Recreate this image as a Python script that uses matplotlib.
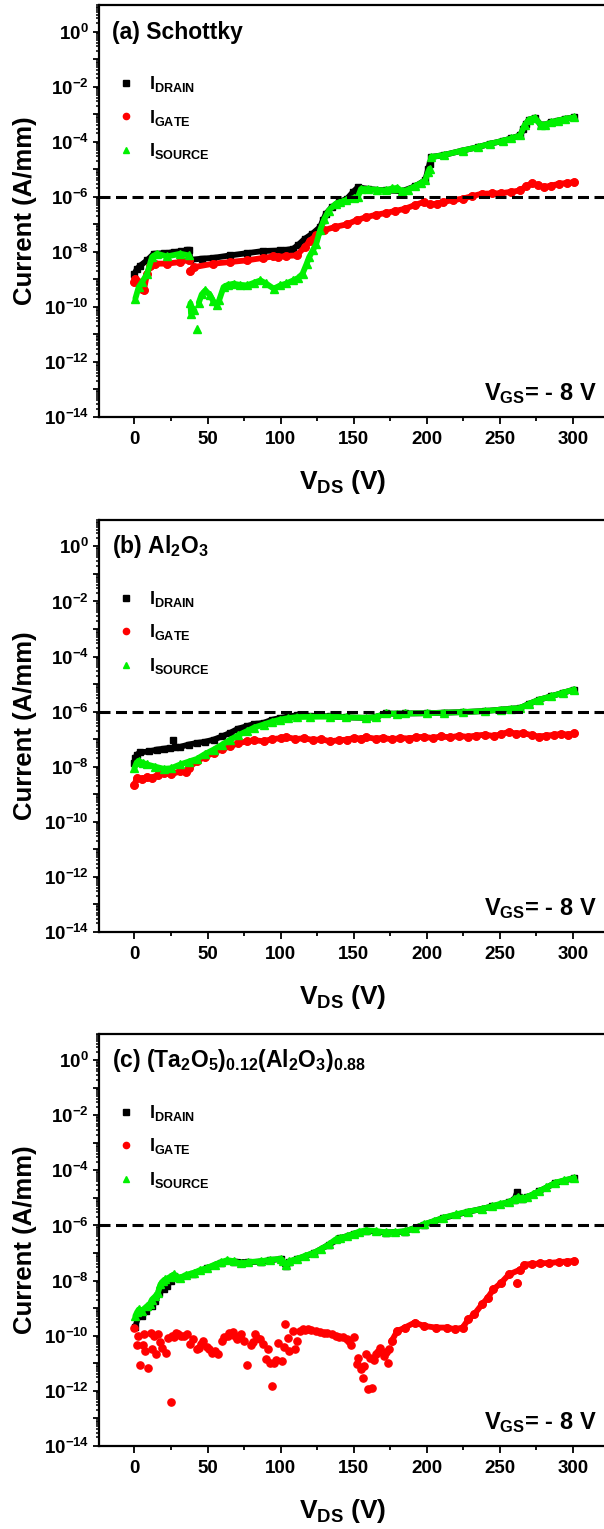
import matplotlib
matplotlib.use('Agg')
import matplotlib.pyplot as plt
import numpy as np
from matplotlib import rcParams
from matplotlib.lines import Line2D
from matplotlib.ticker import FixedLocator, LogLocator, FuncFormatter, NullFormatter

rcParams['font.family'] = 'Liberation Sans'
rcParams['font.weight'] = 'bold'
rcParams['mathtext.fontset'] = 'custom'
rcParams['mathtext.rm'] = 'Liberation Sans:bold'
rcParams['mathtext.it'] = 'Liberation Sans:bold'
rcParams['mathtext.bf'] = 'Liberation Sans:bold'
rcParams['mathtext.default'] = 'bf'

nan = np.nan

# ---- (a) Schottky : V_DS (V) and log10 of current (A/mm)
a_drain_v = [0, 1.7, 4, 8.6, 13.2, 20, 26.9, 32, 36, 37.5, 38.3, 46, 54, 65.5, 77,
             88.3, 99.8, 104, 108.6, 112, 116.5, 121.8, 127, 129, 131, 135, 140,
             145.5, 149.5, 153, 160, 172, 183, 192, 199, 201, 202, nan, 203, 212,
             224.6, 235, 243, 252, 258, 264, 266, 268, 270, 274, 278, 281, 285,
             290, 295, 301]
a_drain_log = [-8.80, -8.62, -8.50, -8.31, -8.07, -8.05, -8.01, -7.98, -7.95, -7.93,
               -8.29, -8.25, -8.22, -8.13, -8.05, -7.97, -7.95, -7.93, -7.89, -7.75,
               -7.53, -7.34, -7.10, -6.85, -6.62, -6.38, -6.19, -6.07, -5.83, -5.65,
               -5.72, -5.77, -5.80, -5.62, -5.40, -5.00, -4.80, nan, -4.56, -4.48,
               -4.32, -4.20, -4.08, -3.97, -3.88, -3.77, -3.55, -3.35, -3.20, -3.13,
               -3.38, -3.38, -3.30, -3.23, -3.17, -3.11]

a_gate_v = [0, 0.6, 2.5, 5.2, 6.4, 8.6, 10.9, 14.3, 22.3, 31.4, 37, nan, 38.3, 40.5,
            54, 65.5, 77, 88.3, 95, 98, 104, 111, 116.5, 120, 124.4, 129.6, 137,
            145.5, 152, 158.7, 165, 172, 178, 185, 192, 198, 202, 207, 211.4, 218,
            224.6, 231, 237.8, 245, 251, 258, 264, 268, 272, 276, 280, 285, 290.5,
            296, 301]
a_gate_log = [-9.10, -8.98, -9.10, -9.34, -9.40, -8.80, -8.50, -8.43, -8.43, -8.37,
              -8.29, nan, -8.68, -8.56, -8.43, -8.37, -8.31, -8.22, -8.17, -8.19,
              -8.15, -8.13, -7.83, -7.60, -7.40, -7.22, -7.10, -7.00, -6.85, -6.74,
              -6.66, -6.59, -6.52, -6.44, -6.30, -6.19, -6.28, -6.25, -6.19, -6.12,
              -6.07, -5.98, -5.89, -5.88, -5.87, -5.82, -5.77, -5.62, -5.51, -5.58,
              -5.65, -5.60, -5.53, -5.50, -5.47]

a_source_v = [0.6, 2.9, 5.2, 8.6, 12, 15.4, 22.3, 31.4, 37, nan, 38.3, 38.7, 41, nan,
              42.6, nan, 44, 46, 48.5, 51.8, 54, 56.5, 58, 61, 64, 67.9, 72, 77, 82,
              86.2, 90, 95.3, 99.8, 104, 108.6, 112, 115, 117.8, 119.5, 122, 124.4,
              127, 130, 133, 137.6, 141, 145, 150, 153, 155, 160, 166, 172, 176, 180,
              183, 187, 192, 196, 199, 201, 202, nan, 203, 212, 224.6, 235, 243, 252,
              258, 264, 267, 270, 274, 278, 281, 285, 290, 295, 301]
a_source_log = [-9.70, -9.28, -9.10, -8.80, -8.19, -8.07, -8.17, -8.07, -8.13, nan,
                -9.87, -10.25, -10.13, nan, -10.79, nan, -9.85, -9.55, -9.40, -9.58,
                -9.80, -9.95, -9.75, -9.28, -9.20, -9.16, -9.20, -9.22, -9.12, -9.04,
                -9.15, -9.34, -9.22, -9.15, -9.04, -8.95, -8.80, -8.44, -8.20, -7.95,
                -7.71, -7.22, -6.80, -6.50, -6.26, -6.18, -6.12, -6.05, -6.00, -5.72,
                -5.72, -5.75, -5.77, -5.70, -5.68, -5.80, -5.75, -5.62, -5.50, -5.40,
                -5.10, -4.98, nan, -4.56, -4.48, -4.32, -4.20, -4.08, -3.97, -3.88,
                -3.77, -3.40, -3.20, -3.13, -3.38, -3.38, -3.30, -3.23, -3.17, -3.11]

# ---- (b) Al2O3
b_drain_v = [0, 0.5, 1.7, 4, 10, 15.4, 20, 24, nan, 26.3, nan, 28, 31.4, 37, 42.8,
             48, 54.2, 60, 65.6, 71, 77, 82, 88.4, 94, 99.9, 105, 111, 120, 134,
             145, 158.7, 165, 172, 180, 185, 200, 212, 224.6, 240, 251, 258, 264,
             270, 277, 285, 293, 301]
b_drain_log = [-7.86, -7.70, -7.56, -7.48, -7.45, -7.38, -7.35, -7.32, nan, -7.02,
               nan, -7.30, -7.28, -7.20, -7.14, -7.10, -7.02, -6.90, -6.77, -6.62,
               -6.53, -6.45, -6.41, -6.30, -6.23, -6.18, -6.14, -6.16, -6.17, -6.21,
               -6.23, -6.20, -6.07, -6.08, -6.07, -6.06, -6.04, -6.02, -5.98, -5.93,
               -5.90, -5.87, -5.72, -5.57, -5.45, -5.32, -5.20]

b_gate_v = [0, 1.7, 5, 8.6, 12, 16, 20, 25, 31.4, 35, 37, 42.8, 48, 54.2, 60, 65.6,
            71, 77, 82, 88.4, 94, 100, 104, 110, 116, 122, 128, 134, 140, 145.5,
            150, 155, 158.7, 165, 170, 176, 182, 188, 193, 198, 204, 210, 216, 222,
            228, 234, 240, 246, 251, 256, 261, 266, 272, 277, 282, 287, 292, 297, 301]
b_gate_log = [-8.65, -8.41, -8.45, -8.38, -8.40, -8.30, -8.25, -8.28, -8.17, -8.20,
              -8.05, -7.80, -7.65, -7.50, -7.36, -7.26, -7.15, -7.08, -7.04, -7.08,
              -7.00, -6.97, -6.92, -7.00, -6.97, -7.03, -7.01, -7.08, -7.04, -7.02,
              -6.96, -6.98, -6.93, -6.99, -6.95, -7.01, -6.96, -6.98, -6.93, -6.92,
              -6.96, -6.90, -6.94, -6.88, -6.92, -6.87, -6.84, -6.89, -6.82, -6.74,
              -6.80, -6.78, -6.86, -6.91, -6.87, -6.85, -6.81, -6.84, -6.79]

b_source_v = [0, 1.5, 2.9, 5.5, 8.6, 14, 20, 25, 31.4, 37, 42.8, 48, 54.2, 60, 65.6,
              71, 77, 82, 88.4, 94, 99.9, 105, 111, 120, 134, 145, 158.7, 165, 172,
              180, 185, 200, 212, 224.6, 240, 251, 258, 264, 270, 277, 285, 293, 301]
b_source_log = [-8.05, -7.85, -7.80, -7.86, -7.92, -8.00, -8.08, -8.06, -7.92, -7.82,
                -7.72, -7.55, -7.38, -7.20, -7.02, -6.86, -6.71, -6.58, -6.47, -6.37,
                -6.29, -6.24, -6.20, -6.19, -6.18, -6.21, -6.23, -6.20, -6.07, -6.08,
                -6.07, -6.06, -6.04, -6.02, -5.98, -5.93, -5.90, -5.87, -5.72, -5.57,
                -5.45, -5.32, -5.20]

# ---- (c) (Ta2O5)0.12(Al2O3)0.88
c_drain_v = [0.5, 3, 5, 8, 12, 14, 17, 20, 22.3, 25, 27, 31, 40, 49.8, 59, 68, 78,
             86.3, 93, 100, 103.4, 106, 111.4, 122.8, 133, 141, 150, 158.7, 172,
             185, 198, 211.4, 228, 245, 256, 260, 262, 263, 265, 269, 277, 288, 301]
c_drain_log = [-9.70, -9.23, -9.30, -9.10, -8.93, -8.75, -8.45, -8.30, -8.20, -8.00,
               -7.85, -7.92, -7.75, -7.56, -7.35, -7.31, -7.34, -7.31, -7.26, -7.22,
               -7.48, -7.32, -7.22, -7.00, -6.70, -6.46, -6.31, -6.19, -6.26, -6.22,
               -5.97, -5.73, -5.51, -5.31, -5.16, -5.06, -4.78, -4.98, -5.03, -4.97,
               -4.76, -4.46, -4.28]

c_gate_v = [0, 1.8, 2.5, 3.6, 5.7, 6.5, 7, 9.2, 11, 12.3, 13.5, 15, 16.3, 17.5, 19,
            21.6, 23, 25, 25.5, 27, 28.2, 30, 32, 34, 36, 38, 40, 42.7, 44, 45.3, 47,
            49.3, 51, 53.2, 55, 57.2, 59.8, 61, 63.8, 65, 67.7, 69, 70.3, 72, 73, 75,
            77, 79.6, 81, 82.2, 84, 86.2, 88, 90.2, 91.5, 93, 94.1, 95.4, 97, 98,
            100.7, 102, 103.3, 105, 106, 108.6, 110, 111.2, 113, 115.2, 117, 119.1,
            121, 124.4, 127, 129.7, 132, 135, 138, 140.2, 143, 145.5, 147, 148.2,
            150.3, 152.1, 153, 154.8, 156.1, 157, 158.7, 160, 161, 162.7, 164,
            165.3, 167, 168, 170.6, 172, 173.2, 174.5, 176, 179.8, 185, 191.7, 198.3,
            206.2, 214, 219.3, 224.6, 228.6, 232.5, 237.8, 241.7, 245.7, 251, 256.3,
            264.2, nan, 262, nan, 266.8, 272, 277.4, 284, 290.5, 296, 301]
c_gate_log = [-9.71, -10.34, -10.00, -11.08, -10.33, -9.95, -10.56, -11.17, -9.90,
              -10.49, -10.00, -10.67, -9.94, -10.25, -10.44, -10.62, -10.10, -12.40,
              -10.00, -10.05, -9.90, -9.95, -10.00, -10.00, -9.94, -10.30, -10.12,
              -10.49, -10.45, -10.30, -10.20, -10.41, -10.50, -10.62, -10.55, -10.67,
              -10.18, -10.05, -10.00, -9.90, -9.87, -10.00, -10.12, -10.05, -9.94,
              -10.20, -11.08, -10.33, -10.25, -9.94, -10.10, -10.12, -10.30, -10.86,
              -10.49, -11.00, -11.83, -10.98, -10.90, -10.27, -10.93, -10.40, -9.59,
              -10.10, -10.56, -9.84, -10.50, -10.18, -9.85, -9.77, -9.80, -9.77,
              -9.80, -9.84, -9.88, -9.90, -9.90, -9.94, -10.00, -10.07, -10.05,
              -10.12, -10.20, -10.33, -10.07, -11.04, -10.80, -11.23, -11.53, -11.10,
              -10.67, -11.95, -10.80, -11.89, -10.90, -10.67, -10.60, -10.44, -10.75,
              -10.60, -10.98, -10.49, -10.20, -9.84, -9.71, -9.53, -9.65, -9.71,
              -9.71, -9.77, -9.71, -9.41, -9.23, -8.87, -8.63, -8.32, -8.08, -7.78,
              -7.60, nan, -8.08, nan, -7.42, -7.40, -7.38, -7.36, -7.33, -7.31, -7.29]

c_source_v = [0.6, 1.8, 3, 5, 8.6, 10.5, 12, 14.3, 16, 17.8, 19.5, 21.2, 24, 26.9, 29,
              31.4, 35, 40.6, 45, 49.8, 55, 59, 63.5, 68, 72.6, 78, 86.3, 93, 100,
              101.5, 103.4, 106, 111.4, 117, 122.8, 128, 133, 137.6, 141, 145.5, 150,
              154, 158.7, 165, 172, 178, 185, 192, 198, 205, 211.4, 220, 228, 237.8,
              245, 250, 256, 260, 262.6, 265, 269, 273, 277, 282, 288, 294, 301]
c_source_log = [-9.29, -9.15, -9.05, -9.10, -8.93, -8.85, -8.69, -8.57, -8.45, -8.14,
                -8.02, -7.96, -7.88, -7.78, -7.86, -7.90, -7.80, -7.72, -7.62, -7.54,
                -7.42, -7.34, -7.26, -7.30, -7.38, -7.33, -7.30, -7.25, -7.21, -7.30,
                -7.42, -7.30, -7.21, -7.10, -6.99, -6.85, -6.69, -6.51, -6.45, -6.39,
                -6.30, -6.22, -6.18, -6.20, -6.25, -6.24, -6.21, -6.10, -5.96, -5.84,
                -5.72, -5.60, -5.50, -5.40, -5.30, -5.22, -5.15, -5.05, -4.97, -5.02,
                -4.96, -4.86, -4.75, -4.62, -4.45, -4.36, -4.27]

# gate current is drawn as loose points below this voltage (panel c only)
panels = [
    ('(a) Schottky', 0.7273,
     (a_drain_v, a_drain_log), (a_gate_v, a_gate_log), (a_source_v, a_source_log), -1),
    (r'(b) Al$_2$O$_3$', 0.3906,
     (b_drain_v, b_drain_log), (b_gate_v, b_gate_log), (b_source_v, b_source_log), -1),
    (r'(c) (Ta$_2$O$_5$)$_{0.12}$(Al$_2$O$_3$)$_{0.88}$', 0.0545,
     (c_drain_v, c_drain_log), (c_gate_v, c_gate_log), (c_source_v, c_source_log), 176),
]

green = '#00f000'
red = '#ff0000'
band = dict(lw=4.2, solid_joinstyle='round', solid_capstyle='round')
fig = plt.figure(figsize=(6.04, 15.29), dpi=100)


def ytick_fmt(y, pos):
    e = int(round(np.log10(y)))
    if e % 2:
        return ''
    return r'$10^{%d}$' % e


for title, bottom, drain, gate, source, scatter_below in panels:
    ax = fig.add_axes([0.1646, bottom, 0.8442, 0.2695])
    ax.set_yscale('log')

    ax.plot(drain[0], 10 ** np.array(drain[1]), color='k', marker='s', ms=5, **band)

    gv = np.array(gate[0])
    gi = 10 ** np.array(gate[1])
    ax.plot(gv, gi, ls='none', color=red, marker='o', ms=5.2)
    joined = ~(gv < scatter_below)
    ax.plot(gv[joined], gi[joined], color=red, marker='o', ms=5.2, **band)

    ax.plot(source[0], 10 ** np.array(source[1]), color=green, marker='^', ms=6,
            **band)

    ax.axhline(1e-6, color='k', lw=2.2, dashes=(3.6, 1.8))

    ax.set_xlim(-24, 325)
    ax.set_ylim(1e-14, 10 ** 0.97)

    ax.xaxis.set_major_locator(FixedLocator([0, 50, 100, 150, 200, 250, 300]))
    ax.xaxis.set_minor_locator(FixedLocator([25, 75, 125, 175, 225, 275]))
    ax.yaxis.set_major_locator(LogLocator(base=10, subs=(1.0,), numticks=30))
    ax.yaxis.set_minor_locator(LogLocator(base=10, subs=np.arange(2, 10), numticks=30))
    ax.yaxis.set_major_formatter(FuncFormatter(ytick_fmt))
    ax.yaxis.set_minor_formatter(NullFormatter())

    ax.tick_params(axis='x', which='major', direction='out', length=5, width=1.3,
                   labelsize=13.5, pad=5)
    ax.tick_params(axis='x', which='minor', direction='out', length=3, width=1.3)
    ax.tick_params(axis='y', which='major', direction='out', length=4.5, width=1.3,
                   labelsize=13.5, pad=3)
    ax.tick_params(axis='y', which='minor', direction='out', length=2.5, width=1.1)
    ax.tick_params(top=False, right=False)
    for s in ax.spines.values():
        s.set_linewidth(1.6)

    ax.set_xlabel(r'V$_{DS}$ (V)', fontsize=19, fontweight='bold')
    ax.xaxis.set_label_coords(0.478, -0.125)
    ax.xaxis.label.set_va('top')
    ax.set_ylabel('Current (A/mm)', fontsize=18.5, fontweight='bold')
    ax.yaxis.set_label_coords(-0.122, 0.5)

    ax.text(0.025, 0.934, title, transform=ax.transAxes, fontsize=16.5,
            fontweight='bold', va='center', ha='left')
    ax.text(0.976, 0.04, r'V$_{GS}$= - 8 V', transform=ax.transAxes, fontsize=17,
            fontweight='bold', ha='right', va='baseline')

    handles = [
        Line2D([], [], ls='none', marker='s', color='k', ms=4.5),
        Line2D([], [], ls='none', marker='o', color=red, ms=4.5),
        Line2D([], [], ls='none', marker='^', color=green, ms=5),
    ]
    ax.legend(handles, [r'I$_{DRAIN}$', r'I$_{GATE}$', r'I$_{SOURCE}$'],
              loc='upper left', bbox_to_anchor=(0.037, 0.832), frameon=False,
              fontsize=13, handlelength=0.8, handletextpad=0.9, labelspacing=0.75,
              borderaxespad=0, borderpad=0)

fig.savefig('out.png', dpi=100)
